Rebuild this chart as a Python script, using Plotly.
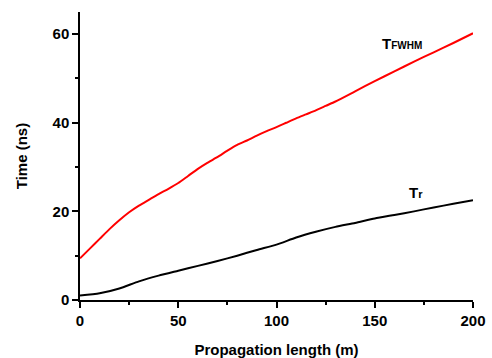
import plotly.graph_objects as go

x_fwhm = [0, 5, 10, 15, 20, 25, 30, 35, 40, 45, 50, 55, 60, 65, 70, 75, 80, 85, 90, 95, 100, 105, 110, 115, 120, 125, 130, 140, 150, 160, 170, 180, 190, 200]
t_fwhm = [9.4, 11.6, 13.8, 16.0, 18.0, 19.8, 21.3, 22.6, 23.9, 25.1, 26.4, 28.0, 29.6, 31.0, 32.3, 33.7, 35.0, 36.0, 37.1, 38.1, 39.0, 40.0, 41.0, 41.9, 42.8, 43.8, 44.8, 47.1, 49.4, 51.6, 53.8, 55.9, 58.0, 60.2]

x_tr = [0, 10, 20, 30, 40, 50, 60, 70, 80, 90, 100, 110, 120, 130, 140, 150, 160, 170, 180, 190, 200]
t_r = [1.0, 1.5, 2.6, 4.2, 5.5, 6.6, 7.7, 8.8, 10.0, 11.3, 12.5, 14.1, 15.4, 16.5, 17.4, 18.4, 19.2, 20.0, 20.9, 21.7, 22.5]

x_ticks = [0, 50, 100, 150, 200]
y_ticks = [0, 20, 40, 60]

FONT = "Liberation Sans, Arial, sans-serif"

fig = go.Figure()
fig.add_trace(go.Scatter(x=x_fwhm, y=t_fwhm, mode="lines", line=dict(color="#ff0000", width=2, shape="spline", smoothing=0.6), showlegend=False))
fig.add_trace(go.Scatter(x=x_tr, y=t_r, mode="lines", line=dict(color="#000000", width=2, shape="spline", smoothing=0.6), showlegend=False))

fig.add_annotation(x=152.5, y=58, xref="x", yref="y", showarrow=False,
                   text="<b>T<span style='font-size:10px'>FWHM</span></b>",
                   font=dict(family=FONT, size=15, color="#000000"), xanchor="left", yanchor="middle")
fig.add_annotation(x=166.5, y=24.3, xref="x", yref="y", showarrow=False,
                   text="<b>T<span style='font-size:11px'>r</span></b>",
                   font=dict(family=FONT, size=15, color="#000000"), xanchor="left", yanchor="middle")

fig.update_layout(
    width=492, height=358,
    margin=dict(l=80, r=19, t=12, b=58),
    plot_bgcolor="white", paper_bgcolor="white",
    font=dict(family=FONT, size=14, color="#000000"),
)
fig.update_xaxes(
    range=[0, 200], tickvals=x_ticks, ticktext=[f"<b>{v}</b>" for v in x_ticks],
    showline=True, linecolor="black", linewidth=1.5, mirror=False,
    ticks="outside", ticklen=6, tickwidth=1.5, tickcolor="black",
    minor=dict(tickvals=[25, 75, 125, 175], ticks="outside", ticklen=3, tickwidth=1.5, tickcolor="black"),
    showgrid=False, zeroline=False, automargin=False,
    title=dict(text="<b>Propagation length (m)</b>", font=dict(size=15), standoff=18),
    tickfont=dict(size=15),
)
fig.update_yaxes(
    range=[0, 65], tickvals=y_ticks, ticktext=[f"<b>{v}</b>" for v in y_ticks],
    showline=True, linecolor="black", linewidth=1.5, mirror=False,
    ticks="outside", ticklen=6, tickwidth=1.5, tickcolor="black",
    minor=dict(tickvals=[10, 30, 50], ticks="outside", ticklen=3, tickwidth=1.5, tickcolor="black"),
    showgrid=False, zeroline=False, automargin=False,
    title=dict(text="<b>Time (ns)</b>", font=dict(size=15), standoff=21),
    tickfont=dict(size=15),
)

fig.write_html("out.html")
